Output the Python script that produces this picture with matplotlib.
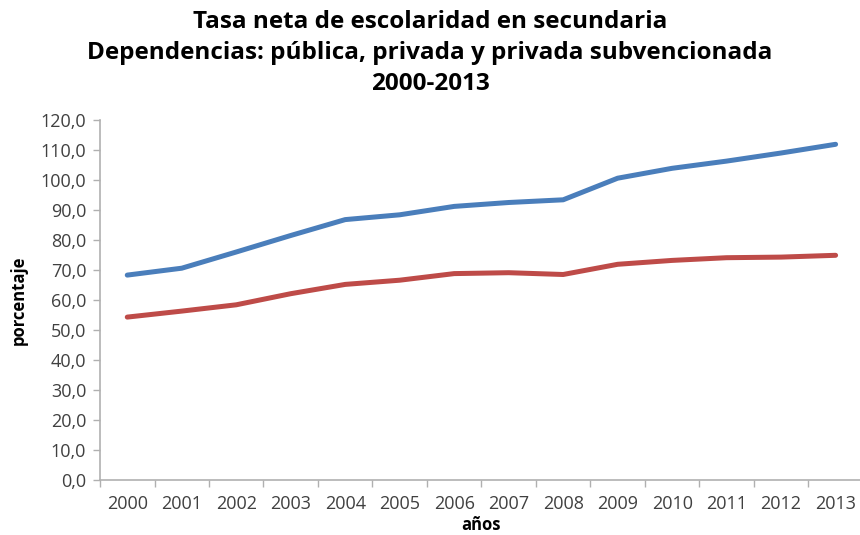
import matplotlib
matplotlib.use("Agg")
import matplotlib.pyplot as plt
import numpy as np
from matplotlib.ticker import FuncFormatter

plt.rcParams['font.family'] = ['Open Sans', 'DejaVu Sans']

years = ['2000', '2001', '2002', '2003', '2004', '2005', '2006',
         '2007', '2008', '2009', '2010', '2011', '2012', '2013']
# blue line (upper) and red line (lower)
serie_azul = [68.3, 70.6, 76.0, 81.5, 86.8, 88.4, 91.2,
              92.5, 93.4, 100.6, 103.9, 106.3, 109.0, 111.9]
serie_roja = [54.3, 56.3, 58.4, 62.1, 65.2, 66.6, 68.8,
              69.1, 68.5, 71.9, 73.2, 74.1, 74.3, 74.9]

x = np.arange(len(years))

fig = plt.figure(figsize=(8.6, 5.35), dpi=100)
ax = fig.add_axes([0.1163, 0.1028, 0.887, 0.6729])

ax.plot(x, serie_azul, color='#4a7ebb', lw=3.6, solid_capstyle='round')
ax.plot(x, serie_roja, color='#be4b48', lw=3.6, solid_capstyle='round')

ax.set_xlim(-0.5, len(years) - 0.5)
ax.set_ylim(0, 120)
ax.set_yticks(np.arange(0, 121, 10))
ax.yaxis.set_major_formatter(FuncFormatter(lambda v, p: f'{v:.1f}'.replace('.', ',')))

# category labels centred, tick marks between categories
ax.set_xticks(x)
ax.set_xticklabels(years)
ax.set_xticks(np.arange(-0.5, len(years), 1), minor=True)
ax.tick_params(axis='x', which='major', length=0, pad=11)
ax.tick_params(axis='x', which='minor', length=5, color='#b0b0b0', width=1)
ax.tick_params(axis='y', length=5, color='#b0b0b0', width=1, pad=5)
ax.tick_params(labelsize=13, labelcolor='#404040')

for s in ['top', 'right']:
    ax.spines[s].set_visible(False)
for s in ['left', 'bottom']:
    ax.spines[s].set_color('#b0b0b0')
    ax.spines[s].set_linewidth(1.2)

ax.set_ylabel('porcentaje', fontsize=12, fontweight='bold', labelpad=9)
ax.set_xlabel('años', fontsize=12, fontweight='bold', labelpad=2)

fig.text(0.5, 0.982, 'Tasa neta de escolaridad en secundaria\n'
         'Dependencias: pública, privada y privada subvencionada\n2000-2013',
         ha='center', va='top', fontsize=17.5, fontweight='bold', linespacing=1.4)

fig.savefig('out.png', dpi=100)
